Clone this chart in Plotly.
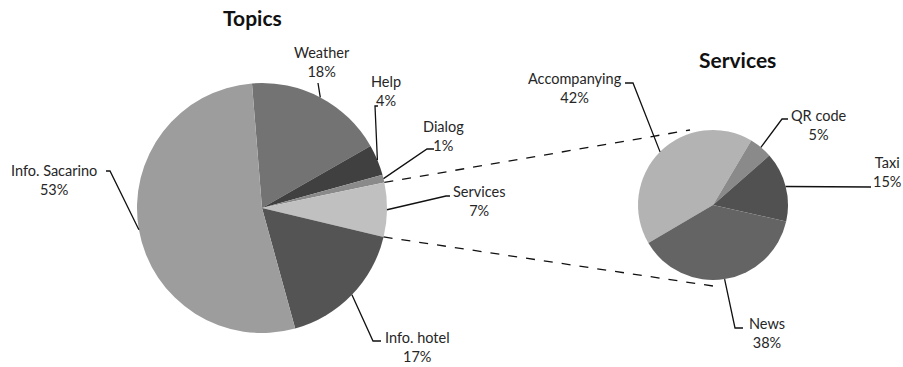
import math
import plotly.graph_objects as go

W, H = 903, 367

# ---- data ----
topics = ["Weather", "Help", "Dialog", "Services", "Info. hotel", "Info. Sacarino"]
topic_vals = [18, 4, 1, 7, 17, 53]
topic_colors = ["#737373", "#404040", "#8a8a8a", "#c0c0c0", "#545454", "#9d9d9d"]

services = ["Accompanying", "QR code", "Taxi", "News"]
service_vals = [42, 5, 15, 38]
service_colors = ["#b3b3b3", "#8a8a8a", "#515151", "#646464"]

# ---- layout (pixels) ----
BIG = dict(cx=262, cy=208, r=125, rot=-4.6)
SMALL = dict(cx=713, cy=205, r=75, rot=-120.5)

FONT = "Lato, 'Open Sans', sans-serif"
TXT = "#262626"


def X(px):
    return px / W


def Y(py):
    return 1 - py / H


def edge(p, ang):
    a = math.radians(ang)
    return (p["cx"] + p["r"] * math.sin(a), p["cy"] - p["r"] * math.cos(a))


def mid_angles(vals, rot):
    tot = sum(vals)
    out, cur = [], rot
    for v in vals:
        out.append(cur + 360 * v / tot / 2)
        cur += 360 * v / tot
    return out


def bounds(vals, rot):
    tot = sum(vals)
    out, cur = [rot], rot
    for v in vals:
        cur += 360 * v / tot
        out.append(cur)
    return out


fig = go.Figure()
for p, labels, vals, cols in [(BIG, topics, topic_vals, topic_colors),
                              (SMALL, services, service_vals, service_colors)]:
    fig.add_trace(go.Pie(
        labels=labels, values=vals, sort=False, direction="clockwise",
        rotation=p["rot"], textinfo="none", hoverinfo="label+percent",
        marker=dict(colors=cols, line=dict(width=0)),
        domain=dict(x=[X(p["cx"] - p["r"]), X(p["cx"] + p["r"])],
                    y=[Y(p["cy"] + p["r"]), Y(p["cy"] - p["r"])]),
        showlegend=False,
    ))

# label placement: (text center x, y) and leader elbow points after the slice edge
big_label_pos = {
    "Weather": ((322, 62), [(318, 83)]),
    "Help": ((386, 91), [(375, 106), (378, 106)]),
    "Dialog": ((443, 136), [(427, 149), (434, 149)]),
    "Services": ((479, 201), [(446, 196), (450, 196)]),
    "Info. hotel": ((417, 347), [(373, 341), (381, 341)]),
    "Info. Sacarino": ((54, 180), [(110, 171), (106, 171)]),
}
small_label_pos = {
    "Accompanying": ((575, 88), [(633, 83), (625, 83)]),
    "QR code": ((819, 125), [(782, 119), (788, 119)]),
    "Taxi": ((887, 172), [(871, 187)]),
    "News": ((767, 333), [(735, 328), (743, 328)]),
}

shapes, annots = [], []
for p, labels, vals, pos in [(BIG, topics, topic_vals, big_label_pos),
                             (SMALL, services, service_vals, small_label_pos)]:
    tot = sum(vals)
    for lab, v, ang in zip(labels, vals, mid_angles(vals, p["rot"])):
        (tx, ty), elbows = pos[lab]
        pts = [edge(p, ang)] + elbows
        path = "M " + " L ".join(f"{X(a):.5f},{Y(b):.5f}" for a, b in pts)
        shapes.append(dict(type="path", path=path, xref="paper", yref="paper",
                           line=dict(color="#111", width=1.3)))
        annots.append(dict(x=X(tx), y=Y(ty), xref="paper", yref="paper",
                           text=f"{lab}<br>{round(100 * v / tot)}%", showarrow=False,
                           font=dict(family=FONT, size=14.5, color=TXT),
                           xanchor="center", yanchor="middle"))

# dashed connectors from the Services slice to the secondary pie
b = bounds(topic_vals, BIG["rot"])
si = topics.index("Services")
s0, s1 = edge(BIG, b[si]), edge(BIG, b[si + 1])
for (x0, y0), (x1, y1) in [(s0, (690, 130)), (s1, (713, 286))]:
    shapes.append(dict(type="line", xref="paper", yref="paper",
                       x0=X(x0), y0=Y(y0), x1=X(x1), y1=Y(y1),
                       line=dict(color="#111", width=1.3, dash="dash")))

annots.append(dict(x=X(252), y=Y(17), xref="paper", yref="paper", text="<b>Topics</b>",
                   showarrow=False, font=dict(family=FONT, size=21, color="#111"),
                   xanchor="center", yanchor="middle"))
annots.append(dict(x=X(737), y=Y(60), xref="paper", yref="paper", text="<b>Services</b>",
                   showarrow=False, font=dict(family=FONT, size=21, color="#111"),
                   xanchor="center", yanchor="middle"))

fig.update_layout(width=W, height=H, margin=dict(l=0, r=0, t=0, b=0),
                  paper_bgcolor="white", plot_bgcolor="white",
                  shapes=shapes, annotations=annots)
fig.write_html("out.html")
